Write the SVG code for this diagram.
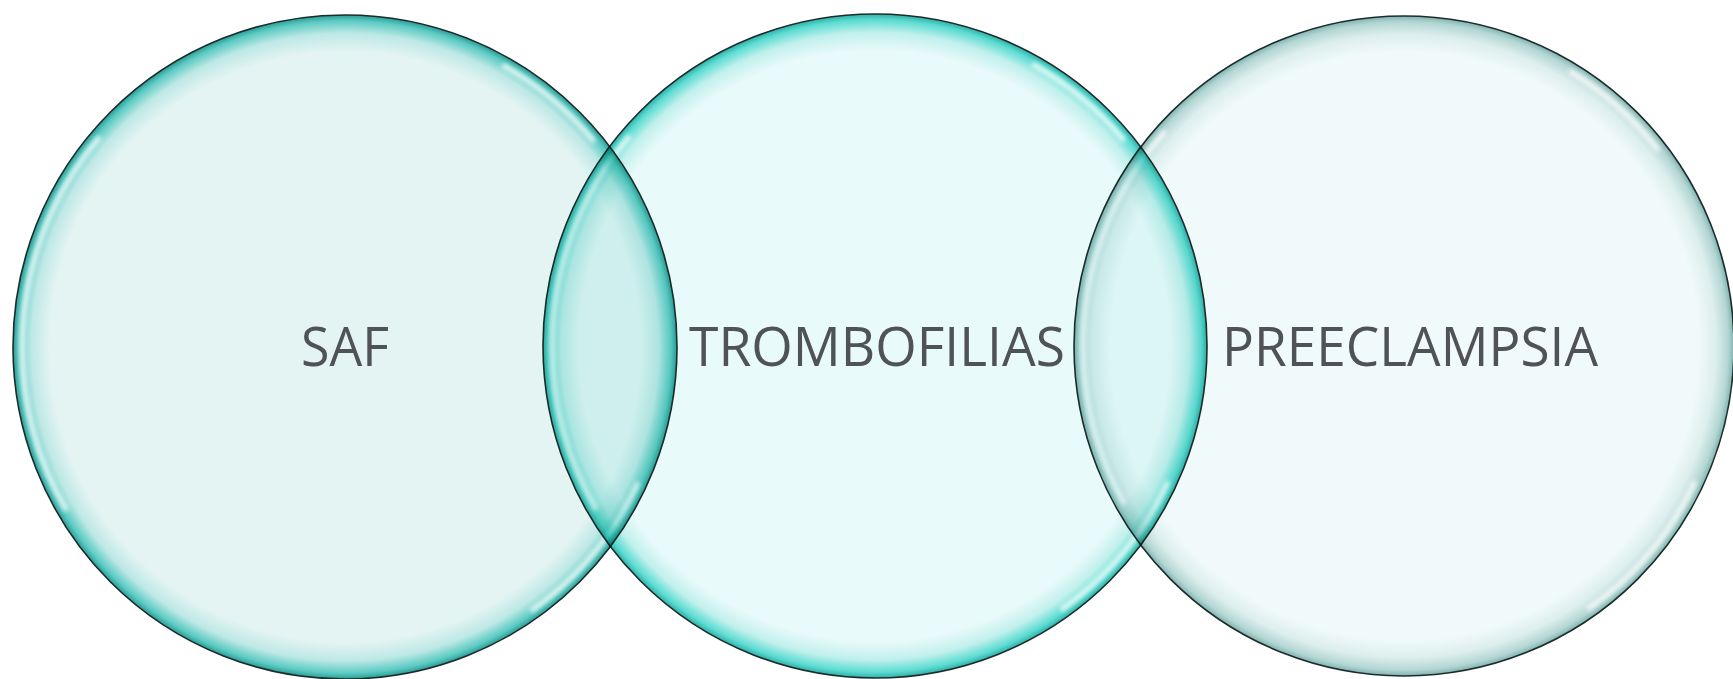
<svg xmlns="http://www.w3.org/2000/svg" width="1733" height="679" viewBox="0 0 1733 679">
<style>
.blend{mix-blend-mode:multiply}
.edge{fill:none;stroke:#1e2b2b;stroke-width:1.6}
.hl{fill:none;stroke:#ffffff;stroke-width:5;stroke-opacity:0.8;stroke-dasharray:169 534 400 443 120 358;stroke-dashoffset:-140;filter:url(#blur)}
.lbl{font-family:"Open Sans","Liberation Sans",sans-serif;font-size:55px;fill:#4f5358;text-anchor:middle}
</style>
<defs>
<filter id="blur" x="-10%" y="-10%" width="120%" height="120%"><feGaussianBlur stdDeviation="2"/></filter>
<radialGradient id="g1" cx="0.5" cy="0.5" r="0.5">
<stop offset="0" stop-color="#e3f4f3"/>
<stop offset="0.89" stop-color="#e3f4f3"/>
<stop offset="0.945" stop-color="#bde8e5"/>
<stop offset="0.982" stop-color="#5ccbc3"/>
<stop offset="1" stop-color="#2a9d96"/>
</radialGradient>
<radialGradient id="g2" cx="0.5" cy="0.5" r="0.5">
<stop offset="0" stop-color="#e9fafa"/>
<stop offset="0.89" stop-color="#e9fafa"/>
<stop offset="0.945" stop-color="#c0f0ec"/>
<stop offset="0.982" stop-color="#5cdcd2"/>
<stop offset="1" stop-color="#2fb0a7"/>
</radialGradient>
<radialGradient id="g3" cx="0.5" cy="0.5" r="0.5">
<stop offset="0" stop-color="#f1fafa"/>
<stop offset="0.89" stop-color="#f1fafa"/>
<stop offset="0.945" stop-color="#dceeed"/>
<stop offset="0.982" stop-color="#b3d6d3"/>
<stop offset="1" stop-color="#7fb3af"/>
</radialGradient>
</defs>
<g id="connectors"></g>
<g id="node-saf">
<g class="blend">
<circle cx="345" cy="347" r="332" fill="url(#g1)"/>
<circle class="hl" cx="345" cy="347" r="323"/>
<circle class="edge" cx="345" cy="347" r="332"/>
</g>
</g>
<g id="node-trombofilias">
<g class="blend">
<circle cx="875" cy="346" r="332" fill="url(#g2)"/>
<circle class="hl" cx="875" cy="346" r="323"/>
<circle class="edge" cx="875" cy="346" r="332"/>
</g>
</g>
<g id="node-preeclampsia">
<g class="blend">
<circle cx="1404" cy="346" r="330" fill="url(#g3)"/>
<circle class="hl" cx="1404" cy="346" r="321"/>
<circle class="edge" cx="1404" cy="346" r="330"/>
</g>
</g>
<g id="labels">
<text class="lbl" x="345" y="366" textLength="88" lengthAdjust="spacingAndGlyphs">SAF</text>
<text class="lbl" x="877" y="366" textLength="376" lengthAdjust="spacingAndGlyphs">TROMBOFILIAS</text>
<text class="lbl" x="1410" y="366" textLength="376" lengthAdjust="spacingAndGlyphs">PREECLAMPSIA</text>
</g>
</svg>
